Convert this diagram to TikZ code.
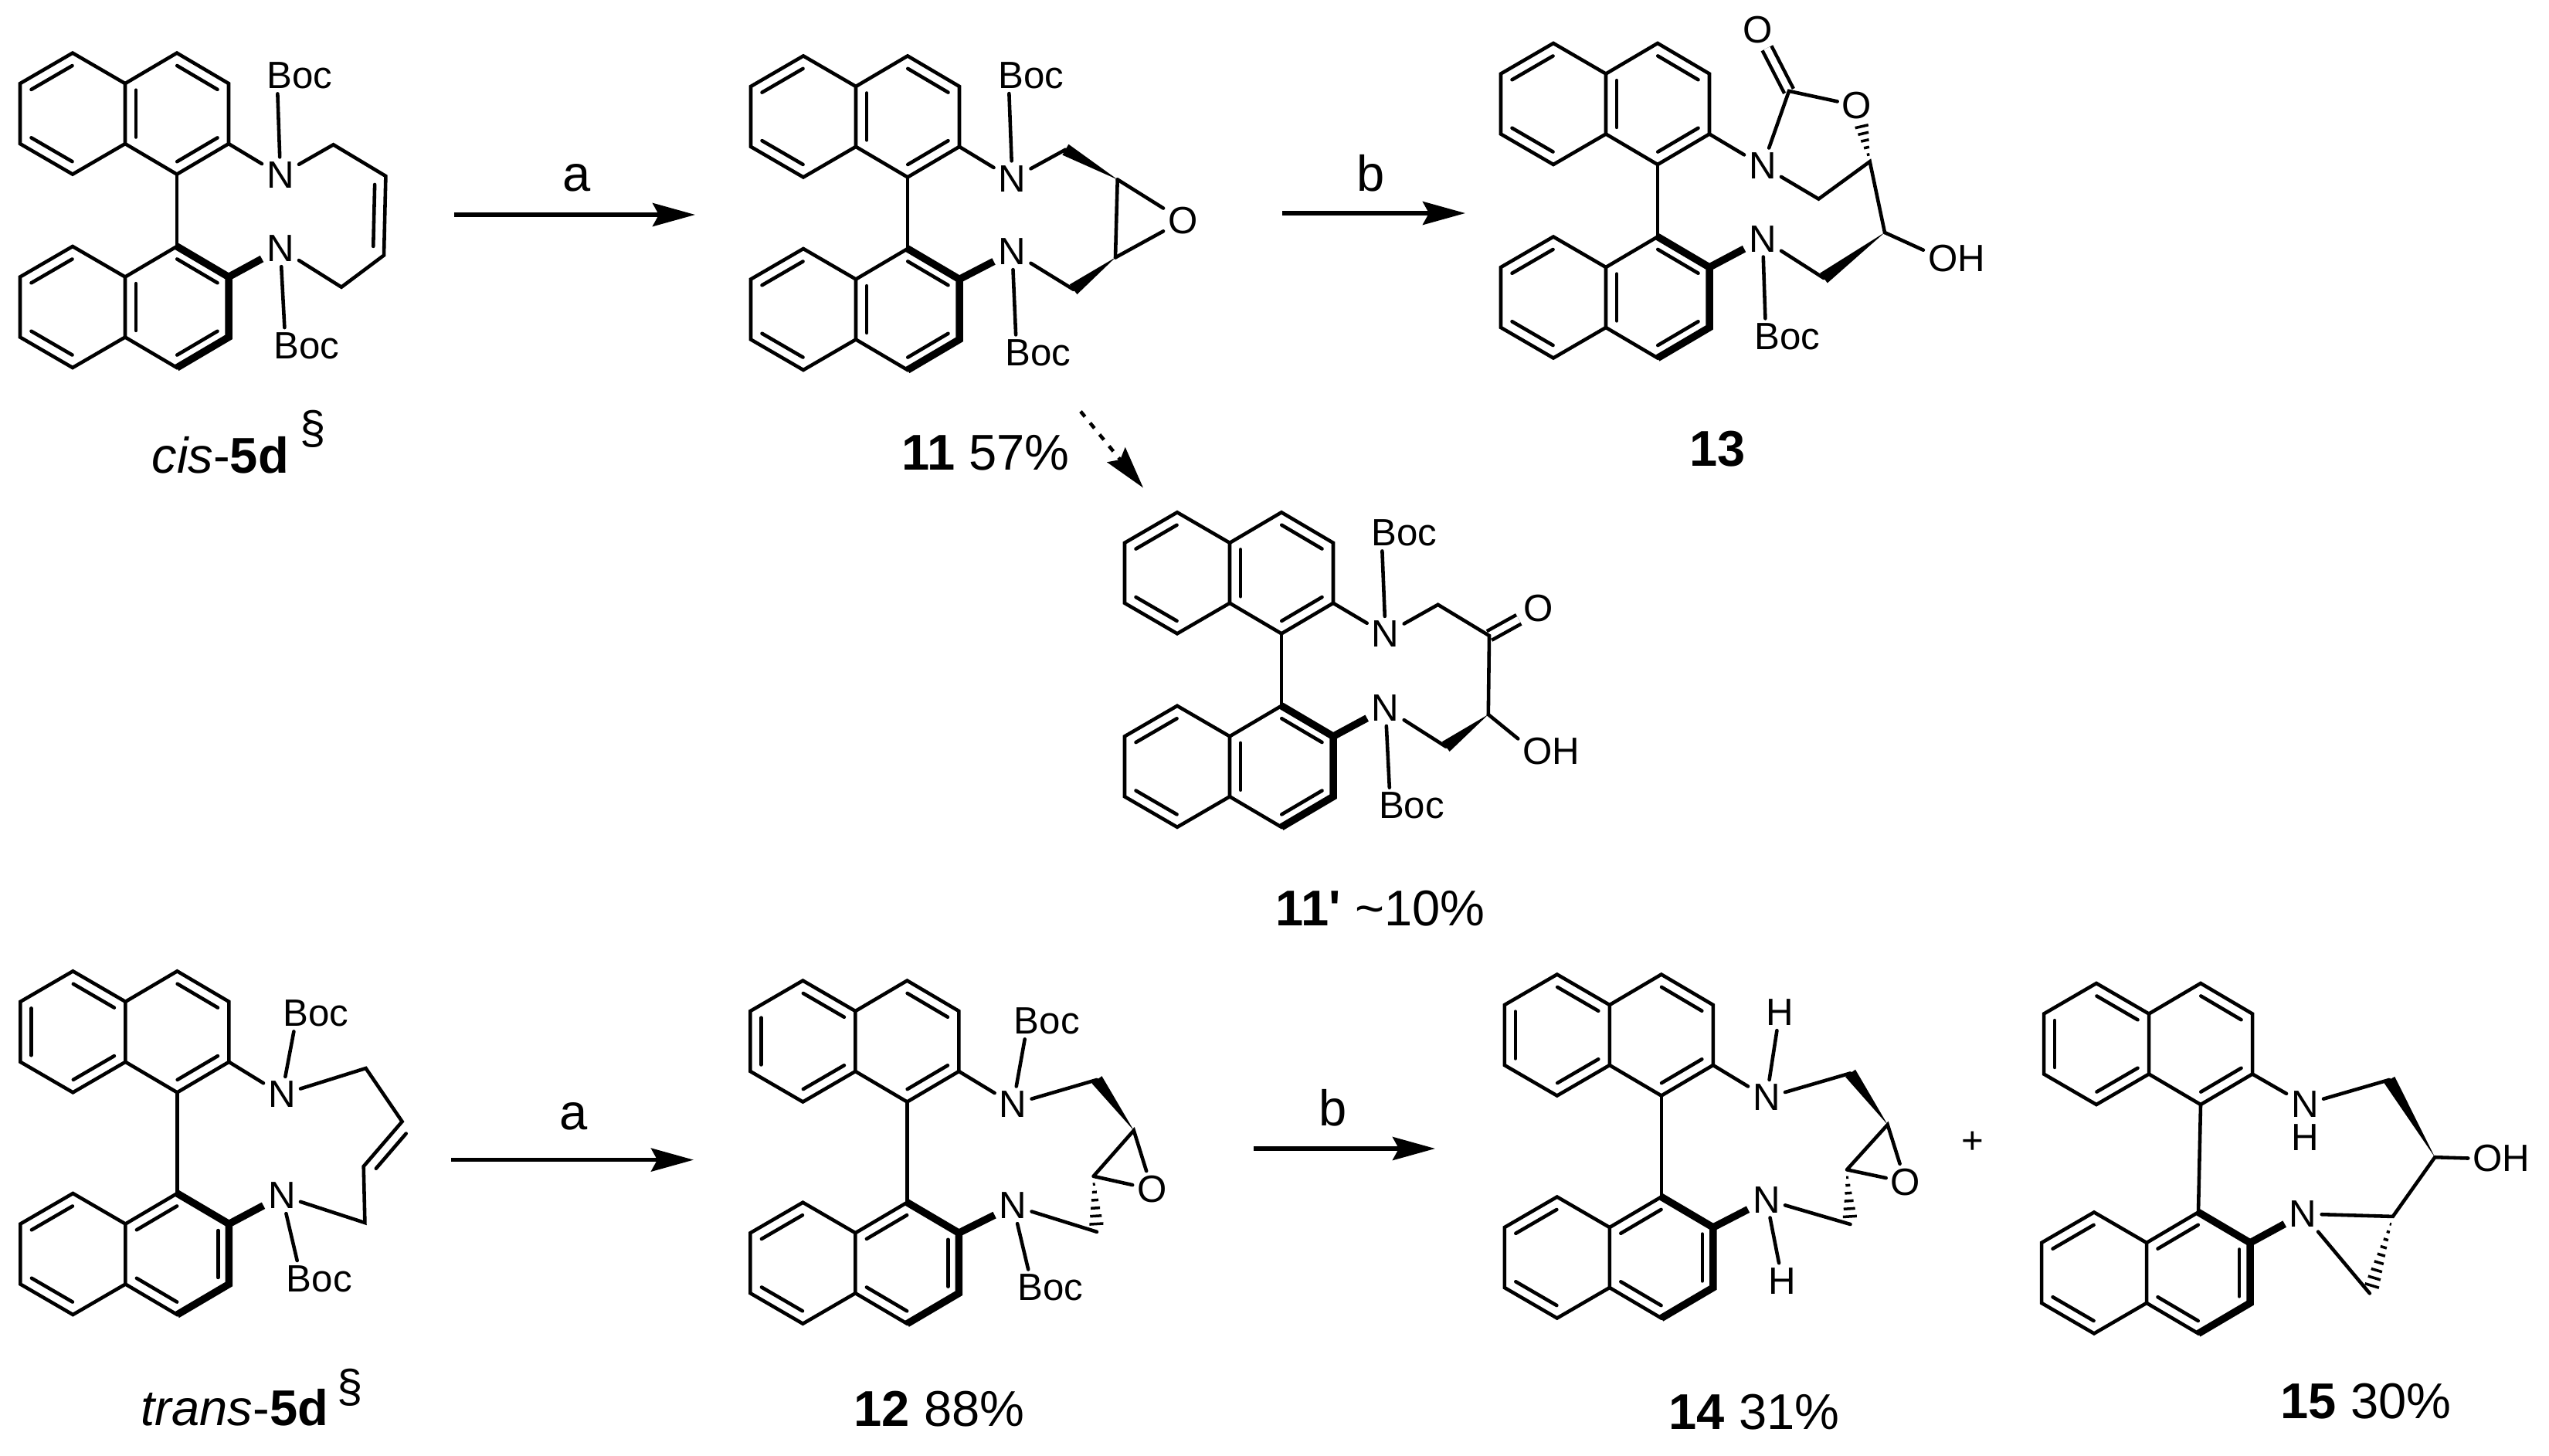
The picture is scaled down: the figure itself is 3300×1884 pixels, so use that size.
\documentclass[tikz,border=0pt]{standalone}
\usepackage{fontspec}
\setmainfont{Liberation Sans}
\usetikzlibrary{arrows.meta,calc}
\tikzset{
  bond/.style={line width=1.3pt,line cap=round,line join=miter},
  boldbond/.style={line width=2.7pt,line join=miter},
  dblbond/.style={line width=1.3pt,double,double distance=.085cm},
  atom/.style={font=\fontsize{14}{15}\selectfont,inner sep=.055cm},
  lab/.style={font=\fontsize{18.5}{20}\selectfont,inner sep=0pt,anchor=base west},
  rxn/.style={line width=1.5pt,-{Stealth[length=.55cm,width=.3cm,inset=.08cm]}},
  cond/.style={font=\fontsize{18.5}{20}\selectfont,inner sep=0pt},
}
% one naphthalene, all ten corners get a name
\newcommand{\naph}[3]{
  \foreach \id/\px/\py in {a/0/39.5,b/68/0,c/136/39.5,d/136/117.5,e/68/157,f/0/117.5,g/203/0,h/270/39.5,i/270/117.5,j/203/157} {
    \coordinate (#1\id) at (#2+\px,#3+\py);
  }
  \draw[bond] (#1a) -- (#1b) -- (#1c) -- (#1d) -- (#1e) -- (#1f) -- cycle;
  \draw[bond] (#1c) -- (#1g) -- (#1h) -- (#1i) -- (#1j) -- (#1d);
}
\newcommand{\dbl}[2]{\draw[bond] ($(#1)!.11!(#2)!.14cm!-90:(#2)$) -- ($(#2)!.11!(#1)!.14cm!90:(#1)$);}
\newcommand{\dblA}[1]{\dbl{#1a}{#1b}\dbl{#1e}{#1f}\dbl{#1d}{#1c}\dbl{#1g}{#1h}\dbl{#1i}{#1j}}
\newcommand{\dblB}[1]{\dbl{#1b}{#1c}\dbl{#1f}{#1a}\dbl{#1d}{#1e}\dbl{#1g}{#1h}\dbl{#1i}{#1j}}
\newcommand{\dblC}[1]{\dbl{#1a}{#1b}\dbl{#1e}{#1f}\dbl{#1c}{#1g}\dbl{#1h}{#1i}\dbl{#1j}{#1d}}
% upper ring, lower ring, upper N, lower N
\newcommand{\biaryl}[4]{
  \draw[bond] (#1j) -- (#2g);
  \draw[bond] (#1i) -- (#3);
  \draw[boldbond] (#2g) -- (#2h) -- (#2i) -- (#2j);
  \draw[boldbond] (#2h) -- (#4);
}
\newcommand{\wedgebond}[2]{\fill (#1) -- ($(#2)!.08cm!90:(#1)$) -- ($(#2)!.08cm!-90:(#1)$) -- cycle;}
\newcommand{\hashbond}[3]{
  \foreach \k [evaluate=\k as \t using \k/(#3+1)] in {1,...,#3} {
    \draw[line width=1pt] ($(#1)!\t!(#2)!{\t*.105cm}!90:(#2)$) -- ($(#1)!\t!(#2)!{\t*.105cm}!-90:(#2)$);
  }
}
\def\bocx{.2cm}
\begin{document}
\begin{tikzpicture}[x=.01cm,y=-.01cm]
  \useasboundingbox (0,0) rectangle (3300,1884);

  % cis-5d
  \naph{cu}{26}{68.6}
  \naph{cl}{26}{319}
  \dblA{cu}
  \dblA{cl}
  \node[atom] (cN) at (363,226.5) {N};
  \node[atom] (cM) at (363,322) {N};
  \node[atom] (cBoc) at (388,98) {Boc};
  \node[atom] (cBod) at (397,447.5) {Boc};
  \coordinate (c1) at (431.6,187.3);
  \coordinate (c2) at (499.4,228);
  \coordinate (c3) at (497,330.5);
  \coordinate (c4) at (442,371.7);
  \biaryl{cu}{cl}{cN}{cM}
  \draw[bond] (cN) -- ([xshift=\bocx]cBoc.south west);
  \draw[bond] (cM) -- ([xshift=\bocx]cBod.north west);
  \draw[bond] (cN) -- (c1) -- (c2) -- (c3) -- (c4) -- (cM);
  \dbl{c2}{c3}
  \node[lab] (cLab) at (196,612) {\textit{cis}-\textbf{5d}\hspace{.15cm}\raisebox{.37cm}{\fontsize{17}{18}\selectfont §}};

  % 11
  \naph{eu}{972}{72.4}
  \naph{el}{972}{322}
  \dblA{eu}
  \dblA{el}
  \node[atom] (eN) at (1310.5,231.5) {N};
  \node[atom] (eM) at (1310.5,326) {N};
  \node[atom] (eBoc) at (1335,97.7) {Boc};
  \node[atom] (eBod) at (1343.7,456.8) {Boc};
  \node[atom] (eO) at (1531.4,285.4) {O};
  \coordinate (e1) at (1379.4,193.7);
  \coordinate (e2) at (1446.7,232.4);
  \coordinate (e3) at (1444,333.4);
  \coordinate (e4) at (1389.6,374.7);
  \biaryl{eu}{el}{eN}{eM}
  \draw[bond] (eN) -- ([xshift=\bocx]eBoc.south west);
  \draw[bond] (eM) -- ([xshift=\bocx]eBod.north west);
  \draw[bond] (eN) -- (e1);
  \draw[bond] (eM) -- (e4);
  \wedgebond{e2}{e1}
  \wedgebond{e3}{e4}
  \draw[bond] (e2) -- (e3);
  \draw[bond] (e2) -- (eO) -- (e3);
  \node[lab] (eLab) at (1167,608) {\textbf{11} 57\%};

  % 13
  \naph{xu}{1943}{56}
  \naph{xl}{1943}{306.5}
  \dblA{xu}
  \dblA{xl}
  \node[atom] (xN) at (2282,214.7) {N};
  \node[atom] (xM) at (2282,309.4) {N};
  \node[atom] (xBod) at (2314,435.7) {Boc};
  \node[atom] (xOa) at (2275.3,38.7) {O};
  \node[atom] (xOb) at (2404,136.8) {O};
  \node[atom] (xOH) at (2533,334.7) {OH};
  \coordinate (x1) at (2316,117.9);
  \coordinate (x2) at (2420.7,209.2);
  \coordinate (x3) at (2354.4,257.6);
  \coordinate (x4) at (2440,301);
  \coordinate (x5) at (2361,360);
  \coordinate (xh) at (2408.1,154.6);
  \biaryl{xu}{xl}{xN}{xM}
  \draw[dblbond] (x1) -- (xOa);
  \draw[bond] (xN) -- (x1) -- (xOb);
  \draw[bond] (xN) -- (x3) -- (x2) -- (x4);
  \draw[bond] (x4) -- ([yshift=.11cm]xOH.west);
  \draw[bond] (xM) -- (x5);
  \draw[bond] (xM) -- ([xshift=\bocx]xBod.north west);
  \hashbond{x2}{xh}{5}
  \wedgebond{x4}{x5}
  \node[lab] (xLab) at (2187,603) {\textbf{13}};

  % 11'
  \naph{ku}{1456}{663.3}
  \naph{kl}{1456}{913.8}
  \dblA{ku}
  \dblA{kl}
  \node[atom] (kN) at (1793.7,821) {N};
  \node[atom] (kM) at (1793.7,916.8) {N};
  \node[atom] (kBoc) at (1818,690) {Boc};
  \node[atom] (kBod) at (1827.4,1043) {Boc};
  \node[atom] (kO) at (1991.6,787.8) {O};
  \node[atom] (kOH) at (2008.4,972.4) {OH};
  \coordinate (k1) at (1861.6,782.8);
  \coordinate (k2) at (1928,823);
  \coordinate (k3) at (1926.8,925);
  \coordinate (k4) at (1871.8,966.6);
  \biaryl{ku}{kl}{kN}{kM}
  \draw[bond] (kN) -- ([xshift=\bocx]kBoc.south west);
  \draw[bond] (kM) -- ([xshift=\bocx]kBod.north west);
  \draw[dblbond] (k2) -- (kO);
  \draw[bond] (kN) -- (k1) -- (k2) -- (k3);
  \draw[bond] (k3) -- ([yshift=.16cm]kOH.west);
  \draw[bond] (kM) -- (k4);
  \wedgebond{k3}{k4}
  \node[lab] (kLab) at (1651,1198) {\textbf{11\textquotesingle} \textasciitilde10\%};

  % trans-5d
  \naph{tu}{26.4}{1257.3}
  \naph{tl}{26.4}{1545}
  \dblB{tu}
  \dblC{tl}
  \node[atom] (tN) at (365,1417) {N};
  \node[atom] (tM) at (365,1548) {N};
  \node[atom] (tBoc) at (409,1312) {Boc};
  \node[atom] (tBod) at (413.3,1655.4) {Boc};
  \coordinate (t1) at (473.6,1383);
  \coordinate (t2) at (520.6,1452);
  \coordinate (t3) at (470.7,1510);
  \coordinate (t4) at (472.4,1583);
  \biaryl{tu}{tl}{tN}{tM}
  \draw[bond] (tN) -- ([xshift=\bocx]tBoc.south west);
  \draw[bond] (tM) -- ([xshift=\bocx]tBod.north west);
  \draw[bond] (tN) -- (t1) -- (t2) -- (t3) -- (t4) -- (tM);
  \dbl{t3}{t2}
  \node[lab] (tLab) at (182,1845) {\textit{trans}-\textbf{5d}\hspace{.12cm}\raisebox{.3cm}{\fontsize{17}{18}\selectfont §}};

  % 12
  \naph{pu}{971.4}{1269.5}
  \naph{pl}{971.4}{1556.7}
  \dblB{pu}
  \dblC{pl}
  \node[atom] (pN) at (1311.6,1429.6) {N};
  \node[atom] (pM) at (1311.6,1561) {N};
  \node[atom] (pBoc) at (1355.3,1322) {Boc};
  \node[atom] (pBod) at (1359.8,1666.8) {Boc};
  \node[atom] (pO) at (1491.5,1539.7) {O};
  \coordinate (p1) at (1420,1397.9);
  \coordinate (p2) at (1467.8,1463.5);
  \coordinate (p3) at (1415.6,1522.8);
  \coordinate (p4) at (1420,1594.8);
  \biaryl{pu}{pl}{pN}{pM}
  \draw[bond] (pN) -- ([xshift=\bocx]pBoc.south west);
  \draw[bond] (pM) -- ([xshift=\bocx]pBod.north west);
  \draw[bond] (pN) -- (p1);
  \draw[bond] (pM) -- (p4);
  \wedgebond{p2}{p1}
  \draw[bond] (p3) -- (p2) -- (pO) -- (p3);
  \hashbond{p3}{p4}{6}
  \node[lab] (pLab) at (1105,1846.8) {\textbf{12} 88\%};

  % 14
  \naph{hu}{1947.8}{1261.5}
  \naph{hl}{1947.8}{1549.5}
  \dblB{hu}
  \dblC{hl}
  \node[atom] (hN) at (2287,1421) {N};
  \node[atom] (hM) at (2287,1553.3) {N};
  \node[atom] (hH) at (2304,1311) {H};
  \node[atom] (hI) at (2307.6,1658.3) {H};
  \node[atom] (hO) at (2467,1530.4) {O};
  \coordinate (h1) at (2395.5,1389.4);
  \coordinate (h2) at (2443.7,1456);
  \coordinate (h3) at (2391,1514.3);
  \coordinate (h4) at (2395.5,1585);
  \biaryl{hu}{hl}{hN}{hM}
  \draw[bond] (hN) -- (hH);
  \draw[bond] (hM) -- (hI);
  \draw[bond] (hN) -- (h1);
  \draw[bond] (hM) -- (h4);
  \wedgebond{h2}{h1}
  \draw[bond] (h3) -- (h2) -- (hO) -- (h3);
  \hashbond{h3}{h4}{6}
  \node[lab] (hLab) at (2160,1850) {\textbf{14} 31\%};
  \node[atom] (plus) at (2554,1479) {+};

  % 15
  \naph{zu}{2646}{1273}
  \naph{zl}{2643}{1569.4}
  \dblB{zu}
  \dblC{zl}
  \node[atom] (zN) at (2984,1429.6) {N};
  \node[atom,inner sep=0pt] (zH) at (2984,1473) {H};
  \node[atom] (zM) at (2981.7,1571.5) {N};
  \node[atom] (zOH) at (3238.4,1499.5) {OH};
  \coordinate (z1) at (3093.3,1397.9);
  \coordinate (z2) at (3152.2,1498.2);
  \coordinate (z3) at (3097.8,1574.9);
  \coordinate (z4) at (3067.8,1674.4);
  \biaryl{zu}{zl}{zN}{zM}
  \draw[bond] (zN) -- (z1);
  \wedgebond{z2}{z1}
  \draw[bond] (zOH.west) -- (z2) -- (z3) -- (zM) -- (z4);
  \hashbond{z3}{z4}{9}
  \node[lab] (zLab) at (2952,1836) {\textbf{15} 30\%};

  % arrows
  \coordinate (aas) at (588,278);
  \coordinate (aae) at (900,278);
  \coordinate (abs) at (1660,276);
  \coordinate (abe) at (1897,276);
  \coordinate (acs) at (584,1501.6);
  \coordinate (ace) at (898,1501.6);
  \coordinate (ads) at (1623,1487);
  \coordinate (ade) at (1858,1487);
  \coordinate (aes) at (1399,532.6);
  \coordinate (aee) at (1480,631.5);
  \draw[rxn] (aas) -- node[cond,above=.27cm,xshift=.03cm] (aa) {a} (aae);
  \draw[rxn] (abs) -- node[cond,above=.25cm,xshift=-.04cm] (ab) {b} (abe);
  \draw[rxn] (acs) -- node[cond,above=.36cm,xshift=.02cm] (ac) {a} (ace);
  \draw[rxn] (ads) -- node[cond,above=.26cm,xshift=-.15cm] (ad) {b} (ade);
  \draw[rxn,line width=1.3pt,dash pattern=on 2.5pt off 3pt] (aes) -- (aee);
\end{tikzpicture}
\end{document}
